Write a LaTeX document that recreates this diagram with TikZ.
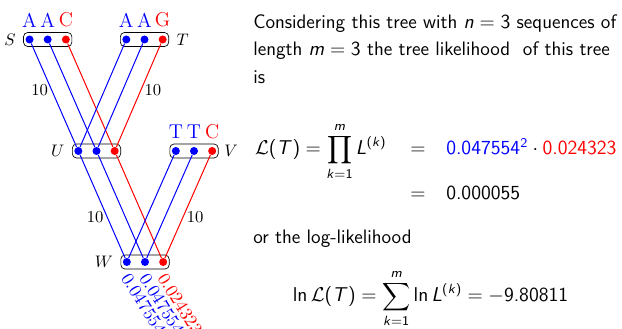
\documentclass[tikz,border=0pt]{standalone}
\usepackage{amsmath, amssymb}
\usepackage{xcolor}
\usepackage{tikz}
\usetikzlibrary{positioning}

% sans serif math for the text part, as on a slide
\DeclareMathVersion{sans}
\SetSymbolFont{operators}{sans}{OT1}{cmss}{m}{n}
\SetSymbolFont{letters}{sans}{OT1}{cmss}{m}{sl}
\mathcode`\.="002E

\begin{document}
\begin{tikzpicture}[x=0.6pt, y=-0.6pt,
    dot/.style={circle, fill, inner sep=0pt, minimum size=4.8pt},
    seqbox/.style={draw, rounded corners=2.5pt, minimum width=29pt, minimum height=8.4pt, inner sep=0pt},
    nuc/.style={font=\fontsize{12}{14}\selectfont, inner sep=0pt},
    brlen/.style={inner sep=2pt},
    sitelik/.style={xshift=2.6pt, yshift=-3pt, rotate=-58, anchor=north west, inner sep=0pt,
                    font=\fontsize{10.8}{13}\selectfont},
    txt/.style={font=\fontsize{11.7}{14}\selectfont\sffamily\mathversion{sans}, anchor=base west, inner sep=0pt},
    eqn/.style={font=\fontsize{11.7}{14}\selectfont\sffamily\mathversion{sans}, inner sep=0pt}]
    \useasboundingbox (0,0) rectangle (622,329);
    % sequence boxes with one dot per site
    \foreach \n/\m/\x/\y in {S/s/47.7/39.5, T/t/144.5/39.5, U/u/96.5/151, V/v/194/151, W/w/145/262} {
        \node[seqbox] (\n) at (\x,\y) {};
        \node[dot, blue] (\m2) at (\n) {};
        \node[dot, blue, left=5.7pt of \m2] (\m1) {};
        \node[dot, red, right=5.7pt of \m2] (\m3) {};
    }
    % node names
    \node[left=1pt of S] (lS) {$S$};
    \node[right=1pt of T] (lT) {$T$};
    \node[left=1pt of U] (lU) {$U$};
    \node[right=0pt of V] (lV) {$V$};
    \node[left=1pt of W] (lW) {$W$};
    % observed nucleotides
    \foreach \d/\l/\c in {s1/A/blue, s2/A/blue, s3/C/red, t1/A/blue, t2/A/blue, t3/G/red,
                          v1/T/blue, v2/T/blue, v3/C/red}
        \node[nuc, \c, above=4.5pt of \d] (n\d) {\l};
    % site lines
    \foreach \a/\b in {s/u, t/u, u/w, v/w}
        \foreach \i/\c in {1/blue, 2/blue, 3/red}
            \draw[\c, semithick] (\a\i) -- (\b\i);
    % branch lengths
    \path (s1) -- (u1) node[brlen, pos=0.45, left] (bSU) {10};
    \path (t3) -- (u3) node[brlen, pos=0.45, right] (bTU) {10};
    \path (u1) -- (w1) node[brlen, pos=0.6, left] (bUW) {10};
    \path (v3) -- (w3) node[brlen, pos=0.6, right] (bVW) {10};
    % site likelihoods at the root
    \node[sitelik, blue] (p1) at (w1.south) {0.047554};
    \node[sitelik, blue] (p2) at (w2.south) {0.047554};
    \node[sitelik, red] (p3) at (w3.south) {0.024323};
    % text
    \node[txt] (line1) at (253,28.3) {Considering this tree with $n=3$ sequences of};
    \node[txt] (line2) at (253,56) {length $m=3$ the tree likelihood~ of this tree};
    \node[txt] (line3) at (253,83.3) {is};
    \node[eqn, anchor=base] (eqa) at (418,155) {$=$};
    \node[eqn, base left=14pt of eqa] (lik) {$\displaystyle \mathcal{L}(T)=\prod_{k=1}^{m} L^{(k)}$};
    \node[eqn, base right=12pt of eqa] (prod) {$\textcolor{blue}{0.047554^2}\cdot\textcolor{red}{0.024323}$};
    \node[eqn, anchor=base] (eqb) at (418,199.5) {$=$};
    \node[eqn, base right=12pt of eqb] (val) {$0.000055$};
    \node[txt] (line4) at (253,243.3) {or the log-likelihood};
    \node[eqn, anchor=base] (loglik) at (430.5,302) {$\displaystyle \ln\mathcal{L}(T)=\sum_{k=1}^{m}\ln L^{(k)}=-9.80811$};
\end{tikzpicture}
\end{document}
